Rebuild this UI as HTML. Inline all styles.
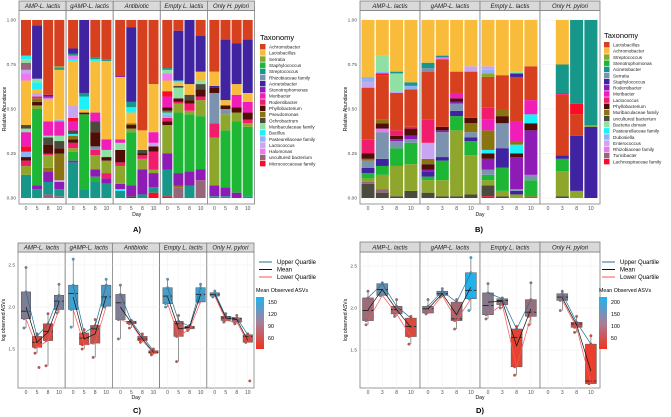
<!DOCTYPE html>
<html><head><meta charset="utf-8">
<style>
html,body{margin:0;padding:0;background:#fff;}
svg{display:block;font-family:"Liberation Sans",sans-serif;}
</style></head>
<body>
<svg id="fig" width="671" height="417" viewBox="0 0 671 417" xmlns="http://www.w3.org/2000/svg"></svg>
<script>
// ---------- DATA ----------
const palette=["#D7401F","#F9BC3A","#8DA62B","#1DB735","#17978A","#7B93AE","#3F23A0","#8E1BB5","#F11DB8","#F21C6D","#4F0E05","#8A7311","#4B4B3D","#8FE0A5","#1BF1F6","#8FB3F2","#C7A5F1","#EE76F0","#96657A","#F80C26"];
const taxaA=["Achromobacter","Lactobacillus","Serratia","Staphylococcus","Streptococcus","Rhizobiaceae family","Acinetobacter","Stenotrophomonas","Muribacter","Rodentibacter","Phyllobacterium","Pseudomonas","Ochrobactrum","Muribaculaceae family","Bacillus","Pasteurellaceae family","Lactococcus","Halomonas","uncultured bacterium","Micrococcaceae family"];
const taxaB=["Lactobacillus","Achromobacter","Streptococcus","Stenotrophomonas","Acinetobacter","Serratia","Staphylococcus","Rodentibacter","Muribacter","Lactococcus","Phyllobacterium","Muribaculaceae family","uncultured bacterium","Bacteria domain","Pasteurellaceae family","Dubosiella","Enterococcus","Rhizobiaceae family","Turicibacter","Lachnospiraceae family"];
const groupsA=["AMP-L. lactis","gAMP-L. lactis","Antibiotic","Empty L. lactis","Only H. pylori"];
const groupsB=["AMP-L. lactis","gAMP-L. lactis","Empty L. lactis","Only H. pylori"];
const daysA=["0","5","8","10"];
const daysB=["0","3","8","10"];
const R=-1; // remainder marker
const barsA=[
[[[4,.13],[2,.05],[9,.03],[10,.02],[15,.03],[19,.03],[8,.08],[13,.02],[12,.02],[1,.25],[17,.04],[16,.02],[18,.04],[13,.02],[14,.02],[0,R]],
 [[4,.05],[7,.02],[3,.43],[2,.02],[10,.02],[11,.02],[9,.01],[16,.02],[1,.02],[14,.04],[13,.02],[6,.30],[0,R]],
 [[18,.02],[4,.07],[7,.06],[11,.02],[2,.07],[9,.01],[10,.05],[12,.04],[13,.01],[8,.08],[1,.12],[16,.01],[8,.01],[6,.01],[0,R]],
 [[18,.01],[4,.04],[7,.04],[16,.01],[11,.15],[10,.03],[12,.04],[13,.03],[8,.08],[15,.01],[1,.28],[4,.01],[2,.01],[0,R]]],
[[[4,.2],[7,.01],[3,.05],[2,.02],[9,.03],[10,.02],[11,.02],[14,.01],[12,.02],[8,.05],[19,.02],[16,.07],[1,.25],[14,.01],[17,.02],[4,.01],[6,.03],[0,R]],
 [[4,.05],[3,.42],[10,.01],[1,.02],[14,.07],[4,.02],[6,R]],
 [[4,.09],[3,.03],[7,.04],[2,.08],[9,.03],[5,.02],[10,.08],[12,.06],[8,.05],[1,.29],[14,.01],[4,.01],[0,R]],
 [[4,.08],[7,.03],[9,.03],[2,.07],[10,.02],[13,.04],[8,.06],[1,.44],[4,.01],[0,R]]],
[[[4,.04],[14,.01],[7,.03],[2,.1],[9,.02],[10,.07],[13,.04],[8,.02],[1,.35],[7,.01],[0,R]],
 [[12,.01],[7,.06],[3,.3],[2,.02],[10,.02],[11,.01],[1,.06],[14,.03],[4,.03],[6,.42],[0,R]],
 [[4,.02],[7,.14],[2,.06],[9,.02],[10,.01],[12,.02],[1,.11],[0,R]],
 [[19,.03],[4,.03],[7,.08],[2,.02],[9,.1],[10,.03],[16,.02],[8,.06],[1,.27],[0,R]]],
[[[19,.01],[4,.15],[7,.09],[2,.16],[10,.02],[9,.02],[15,.02],[14,.01],[11,.01],[10,.02],[8,.06],[19,.03],[1,.06],[17,.04],[13,.02],[4,.01],[0,R]],
 [[18,.06],[11,.01],[7,.07],[3,.34],[2,.05],[9,.01],[10,.02],[13,.06],[12,.01],[1,.02],[14,.01],[6,.28],[0,R]],
 [[4,.07],[7,.08],[3,.32],[2,.02],[9,.04],[10,.02],[12,.03],[1,.06],[6,.36],[0,R]],
 [[18,.1],[7,.06],[3,.3],[2,.09],[9,.02],[10,.04],[12,.03],[13,.02],[1,.05],[6,.2],[0,R]]],
[[[4,.01],[7,.06],[2,.27],[9,.08],[5,.17],[10,.03],[6,.01],[1,.08],[0,R]],
 [[4,.01],[7,.05],[3,.32],[2,.09],[5,.03],[10,.02],[1,.03],[6,.34],[0,R]],
 [[7,.03],[3,.4],[2,.05],[10,.03],[8,.07],[1,.06],[6,.23],[0,R]],
 [[4,.01],[3,.39],[2,.02],[9,.02],[10,.04],[8,.06],[1,.05],[6,.3],[0,R]]]
];
const barsB=[
[[[12,.08],[18,.01],[2,.02],[3,.03],[6,.03],[5,.04],[11,.01],[10,.03],[9,.08],[0,.29],[16,.03],[15,.03],[1,R]],
 [[12,.03],[18,.02],[2,.08],[3,.05],[6,.04],[5,.15],[17,.02],[10,.03],[11,.02],[0,.25],[19,.01],[15,.01],[13,.09],[1,R]],
 [[12,.01],[2,.17],[3,.1],[5,.04],[7,.01],[10,.02],[9,.03],[0,.21],[16,.01],[13,.1],[4,.01],[1,R]],
 [[12,.04],[2,.15],[3,.12],[5,.02],[7,.02],[10,.04],[9,.01],[0,.21],[15,.02],[4,.02],[1,R]]],
[[[12,.03],[2,.07],[3,.02],[6,.03],[7,.01],[10,.03],[11,.03],[16,.09],[9,.13],[0,.27],[5,.02],[4,.03],[1,R]],
 [[12,.01],[2,.09],[3,.11],[6,.02],[5,.14],[7,.01],[10,.02],[0,.38],[17,.01],[4,.01],[1,R]],
 [[12,.01],[2,.37],[3,.08],[6,.03],[5,.04],[7,.01],[10,.02],[8,.03],[0,.12],[1,R]],
 [[12,.02],[2,.22],[3,.08],[6,.02],[5,.03],[11,.05],[10,.03],[0,.26],[16,.03],[1,R]]],
[[[19,.01],[12,.06],[2,.03],[3,.03],[5,.03],[7,.06],[10,.03],[14,.02],[11,.11],[8,.06],[9,.07],[0,.17],[2,.02],[15,.02],[16,.02],[1,R]],
 [[12,.01],[2,.03],[3,.13],[6,.11],[5,.14],[10,.04],[11,.04],[0,.19],[1,R]],
 [[2,.02],[6,.02],[5,.01],[7,.18],[10,.02],[14,.05],[11,.02],[8,.11],[0,.25],[6,.02],[13,.01],[1,R]],
 [[11,.01],[3,.09],[5,.03],[7,.25],[10,.04],[14,.05],[8,.08],[0,.19],[1,R]]],
[[],
 [[12,.01],[2,.14],[3,.07],[6,.02],[0,.34],[9,.01],[4,.16],[1,R]],
 [[2,.04],[6,.31],[0,.12],[19,.06],[4,R]],
 [[6,.4],[2,.01],[4,R]]]
];
// boxplots: [q1, median, q3, whiskerLow, whiskerHigh, mean, meanASVs]
const boxC=[
[[1.86,1.95,2.18,1.75,2.47,2.00,110],[1.52,1.58,1.65,1.45,1.68,1.58,50],[1.60,1.71,1.80,1.30,1.92,1.70,60],[1.97,2.07,2.14,1.93,2.27,2.06,115]],
[[1.97,2.16,2.26,1.76,2.57,2.12,150],[1.55,1.63,1.69,1.50,1.73,1.62,55],[1.57,1.74,1.78,1.40,1.85,1.68,65],[2.01,2.12,2.26,2.00,2.33,2.13,140]],
[[1.85,2.05,2.15,1.62,2.26,2.00,110],[1.80,1.82,1.83,1.75,1.84,1.81,75],[1.60,1.62,1.65,1.58,1.68,1.62,55],[1.45,1.46,1.48,1.43,1.50,1.46,35]],
[[2.04,2.13,2.23,2.00,2.33,2.12,145],[1.65,1.80,1.83,1.35,1.90,1.74,70],[1.74,1.76,1.77,1.72,1.78,1.76,70],[2.06,2.15,2.23,2.06,2.27,2.15,145]],
[[2.13,2.15,2.17,2.12,2.19,2.15,140],[1.84,1.87,1.89,1.82,1.92,1.87,80],[1.82,1.86,1.87,1.80,1.90,1.85,80],[1.58,1.65,1.67,1.58,1.68,1.60,55]]
];
const outliersC=[[[],[1.28],[],[]],[[],[],[],[]],[[],[],[],[]],[[],[],[],[]],[[],[],[],[1.12]]];
const boxD=[
[[1.85,1.97,2.12,1.80,2.20,1.98,100],[2.15,2.22,2.29,2.15,2.30,2.22,150],[1.93,1.98,2.02,1.90,2.10,1.98,95],[1.66,1.78,1.88,1.57,1.90,1.77,50]],
[[1.94,1.99,2.02,1.93,2.10,1.99,110],[2.15,2.17,2.20,2.13,2.23,2.17,140],[1.85,1.87,2.07,1.75,2.10,1.92,95],[2.11,2.21,2.42,1.97,2.60,2.25,205]],
[[1.92,2.03,2.18,1.87,2.29,2.07,120],[2.04,2.09,2.11,2.00,2.12,2.08,110],[1.30,1.65,1.75,1.20,1.78,1.55,40],[1.90,1.95,2.10,1.80,2.30,1.99,105]],
[null,[2.09,2.13,2.17,1.97,2.20,2.12,120],[1.77,1.81,1.83,1.71,1.90,1.80,60],[1.10,1.13,1.57,1.10,1.67,1.25,35]]
];
const outliersD=[[[],[],[],[]],[[],[],[],[]],[[],[],[],[]],[[],[],[],[]]];
const ticksBar=["0.00","0.25","0.50","0.75","1.00"];
const ticksLog=["1.5","2.0","2.5"];
const cbC=["150","120","90","60"];
const cbD=["200","150","100","50"];

// ---------- HELPERS ----------
const svg=document.getElementById('fig');
const NS="http://www.w3.org/2000/svg";
function el(tag,attrs,parent,text){const e=document.createElementNS(NS,tag);for(const k in attrs)e.setAttribute(k,attrs[k]);if(text!==undefined)e.textContent=text;(parent||svg).appendChild(e);return e;}
function strip(x,y,w,h,label,parent){
  const r=el('rect',{x:x,y:y,width:w,height:h,fill:'#D9D9D9',stroke:'#7F7F7F','stroke-width':0.8},parent);
  
  
  const t=el('text',{x:x+w/2,y:y+h-2.3,'font-size':6,'text-anchor':'middle',fill:'#1a1a1a','font-style':'italic'},parent,label);
  
  
}
function mixColor(v,lo,hi){let t=(v-lo)/(hi-lo);t=Math.max(0,Math.min(1,t));
  const a=[240,60,40],b=[30,180,240];
  return 'rgb('+a.map((c,i)=>Math.round(c+(b[i]-c)*t)).join(',')+')';}

// ---------- BAR CHART ----------
function barChart(cfg){
  const g=el('g',{});
  
  
  const y=v=>cfg.y0-(cfg.y0-cfg.y1)*v;
  cfg.groups.forEach((gn,p)=>{
    const L=cfg.left+p*cfg.pw;
    const bg=el('rect',{x:L,y:cfg.top,width:cfg.pw,height:cfg.bottom-cfg.top,fill:'#fff',stroke:'#7F7F7F','stroke-width':0.8},g);
    
    
    ticksBar.forEach((t,i)=>el('line',{x1:L,x2:L+cfg.pw,y1:y(i*0.25),y2:y(i*0.25),stroke:'#EBEBEB','stroke-width':0.5},g));
    strip(L,cfg.stop,cfg.pw,cfg.top-cfg.stop,gn,g);
    cfg.bars[p].forEach((segs,b)=>{
      const cx=L+cfg.off+b*cfg.step;let acc=0;
      segs.forEach(s=>{
        const v=s[1]===R?Math.max(0,1-acc):s[1];
        const r=el('rect',{x:cx-cfg.bw/2,y:y(acc+v),width:cfg.bw,height:Math.max(0,y(acc)-y(acc+v)),fill:palette[s[0]]},g);
        
        
        acc+=v;
      });
      const tl=el('text',{x:cx,y:cfg.bottom+6,'font-size':5,'text-anchor':'middle',fill:'#4d4d4d'},g,cfg.days[b]);
      
      
    });
  });
  ticksBar.forEach((t,i)=>{
    const tl=el('text',{x:cfg.left-3,y:y(i*0.25)+1.7,'font-size':4.8,'text-anchor':'end',fill:'#4d4d4d'},g,t);
    
    
  });
  const yt=el('text',{transform:'translate('+(cfg.left-13)+','+((cfg.y0+cfg.y1)/2)+') rotate(-90)','font-size':5,'text-anchor':'middle'},g,'Relative Abundance');
  
  
  const xt=el('text',{x:cfg.left+cfg.pw*cfg.groups.length/2,y:cfg.bottom+12,'font-size':5,'text-anchor':'middle'},g,'Day');
  
  
  const lt=el('text',{x:cfg.lx,y:cfg.ly,'font-size':7.5},g,'Taxonomy');
  
  
  cfg.taxa.forEach((n,i)=>{
    const yy=cfg.ly+4+i*6.15;
    const sw=el('rect',{x:cfg.lx,y:yy,width:5.5,height:5.5,fill:palette[i]},g);
    
    
    const tx=el('text',{x:cfg.lx+9,y:yy+4.5,'font-size':4.6,fill:'#1a1a1a'},g,n);
    
    
  });
  const pl=el('text',{x:cfg.label[0],y:cfg.label[1],'font-size':7.5,'font-weight':'bold','text-anchor':'middle'},g,cfg.label[2]);
  
  
}
barChart({name:'chart-a',groups:groupsA,bars:barsA,taxa:taxaA,days:daysA,left:19,pw:47.1,off:7,step:11.1,bw:10,stop:1,top:10.5,bottom:204,y0:198,y1:20,lx:260,ly:40,label:[137,232,'A)']});
barChart({name:'chart-b',groups:groupsB,bars:barsB,taxa:taxaB,days:daysB,left:360,pw:60,off:8,step:14.3,bw:13,stop:1,top:10.5,bottom:204,y0:198,y1:20,lx:604,ly:38,label:[479,232,'B)']});

// ---------- BOX PLOTS ----------
function boxChart(cfg){
  const g=el('g',{});
  
  
  const y=v=>cfg.y2-(v-2)*cfg.k;
  cfg.groups.forEach((gn,p)=>{
    const L=cfg.left+p*cfg.pw;
    const bg=el('rect',{x:L,y:cfg.top,width:cfg.pw,height:cfg.bottom-cfg.top,fill:'#fff',stroke:'#7F7F7F','stroke-width':0.8},g);
    
    
    ticksLog.forEach(t=>el('line',{x1:L,x2:L+cfg.pw,y1:y(+t),y2:y(+t),stroke:'#EBEBEB','stroke-width':0.5},g));
    cfg.days.forEach((d,i)=>el('line',{x1:L+cfg.off+i*cfg.step,x2:L+cfg.off+i*cfg.step,y1:cfg.top,y2:cfg.bottom,stroke:'#F2F2F2','stroke-width':0.5},g));
    strip(L,cfg.stop,cfg.pw,cfg.top-cfg.stop,gn,g);
    const data=cfg.data[p];
    const cx=i=>L+cfg.off+i*cfg.step;
    data.forEach((b,i)=>{
      if(!b)return;
      const col=mixColor(b[6],cfg.lo,cfg.hi);
      el('line',{x1:cx(i),x2:cx(i),y1:y(b[3]),y2:y(b[4]),stroke:'#555','stroke-width':0.6},g);
      const r=el('rect',{x:cx(i)-cfg.bw/2,y:y(b[2]),width:cfg.bw,height:y(b[0])-y(b[2]),fill:col,stroke:'#555','stroke-width':0.5},g);
      
      
      el('line',{x1:cx(i)-cfg.bw/2,x2:cx(i)+cfg.bw/2,y1:y(b[1]),y2:y(b[1]),stroke:'#222','stroke-width':0.9},g);
      [b[3],b[4],b[1],b[0],b[2]].concat(cfg.out[p][i]).forEach((v,j)=>{
        const c=el('circle',{cx:cx(i)+((j%3)-1)*2,cy:y(v),r:1.3,fill:col,stroke:'#666','stroke-width':0.3},g);
        
        
      });
    });
    [[2,'#1F6F96','upper-quartile-line'],[5,'#111','mean-line'],[0,'#FF5555','lower-quartile-line']].forEach(s=>{
      const pts=data.map((b,i)=>b?cx(i)+','+y(b[s[0]]):null).filter(Boolean).join(' ');
      const pl=el('polyline',{points:pts,fill:'none',stroke:s[1],'stroke-width':0.7},g);
      
      
    });
    cfg.days.forEach((d,i)=>{
      const tl=el('text',{x:cx(i),y:cfg.bottom+6,'font-size':5,'text-anchor':'middle',fill:'#4d4d4d'},g,d);
      
      
    });
  });
  ticksLog.forEach(t=>{
    const tl=el('text',{x:cfg.left-3,y:y(+t)+1.7,'font-size':4.8,'text-anchor':'end',fill:'#4d4d4d'},g,t);
    
    
  });
  const yt=el('text',{transform:'translate('+(cfg.left-13)+','+((cfg.top+cfg.bottom)/2)+') rotate(-90)','font-size':5,'text-anchor':'middle'},g,'log observed ASVs');
  
  
  const xt=el('text',{x:cfg.left+cfg.pw*cfg.groups.length/2,y:cfg.bottom+11,'font-size':5,'text-anchor':'middle'},g,'Day');
  
  
  [['Upper Quartile','#1F6F96'],['Mean','#111'],['Lower Quartile','#FF5555']].forEach((s,i)=>{
    const yy=cfg.ly+i*7.5;
    el('line',{x1:cfg.lx,x2:cfg.lx+13,y1:yy,y2:yy,stroke:s[1],'stroke-width':1},g);
    const t=el('text',{x:cfg.lx+18,y:yy+2.2,'font-size':6},g,s[0]);
    
    
  });
  const ct=el('text',{x:cfg.lx-3,y:cfg.ly+30,'font-size':5.3},g,'Mean Observed ASVs');
  
  
  const gid='grad'+cfg.name;
  const defs=el('defs',{},g);const lg=el('linearGradient',{id:gid,x1:0,y1:0,x2:0,y2:1},defs);
  el('stop',{offset:'0',['stop-color']:'#1CB4F0'},lg);el('stop',{offset:'0.5',['stop-color']:'#A87E98'},lg);el('stop',{offset:'1',['stop-color']:'#F0321E'},lg);
  const cb=el('rect',{x:cfg.lx-3,y:cfg.ly+35,width:8,height:52,fill:'url(#'+gid+')'},g);
  
  
  cfg.cb.forEach((t,i)=>{
    const tl=el('text',{x:cfg.lx+9,y:cfg.ly+42+i*12,'font-size':5.3},g,t);
    
    
  });
  const pl=el('text',{x:cfg.label[0],y:cfg.label[1],'font-size':7.5,'font-weight':'bold','text-anchor':'middle'},g,cfg.label[2]);
  
  
}
boxChart({name:'chart-c',groups:groupsA,data:boxC,out:outliersC,days:daysA,left:18,pw:47.2,off:8,step:11,bw:9.5,stop:243,top:252,bottom:388,y2:307,k:84,lo:40,hi:170,lx:259,ly:262,cb:cbC,label:[137,413,'C)']});
boxChart({name:'chart-d',groups:groupsB,data:boxD,out:outliersD,days:daysB,left:360,pw:60,off:8,step:14.3,bw:11,stop:242,top:252,bottom:388,y2:308,k:84,lo:30,hi:210,lx:602,ly:262,cb:cbD,label:[480,413,'D)']});
</script>
</body></html>
